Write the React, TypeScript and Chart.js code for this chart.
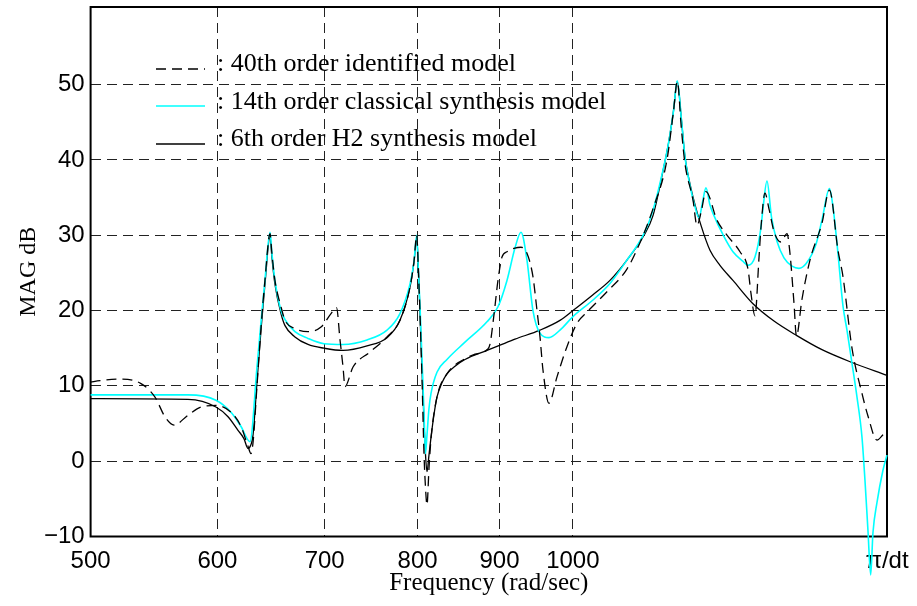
import React, { useEffect, useRef } from 'react';
import { Chart, registerables } from 'chart.js';

Chart.register(...registerables);

// Frequency axis (rad/sec, logarithmic) and magnitude axis (dB)
const PI_DT = 1570.8;
const xTicks = [500, 600, 700, 800, 900, 1000, PI_DT];
const yTicks = [-10, 0, 10, 20, 30, 40, 50];
const xMin = 500;
const yMin = -10;
const yMax = 60.3;

const seriesLabels = [
  ': 40th order identified model',
  ': 14th order classical synthesis model',
  ': 6th order H2 synthesis model',
];

// 40th order identified model (dashed black)
const idFreq = [500, 506.8, 522.3, 537.6, 548.5, 556.4, 563.7, 575.1, 586.0, 598.7, 611.8, 620.7, 626.9, 629.6, 631.5, 635.1, 638.8, 642.4, 647.1, 648.9, 651.7, 657.4, 661.2, 670.7, 683.4, 696.3, 706.4, 712.0, 715.6, 718.7, 720.7, 729.1, 747.1, 765.6, 780.0, 791.3, 795.9, 799.0, 801.0, 802.8, 805.1, 807.4, 809.1, 810.9, 813.2, 815.6, 822.6, 834.5, 856.4, 868.8, 883.9, 887.7, 892.9, 898.0, 903.2, 909.7, 920.2, 928.2, 936.2, 944.3, 949.8, 953.9, 958.0, 966.3, 977.5, 991.6, 1006.0, 1020.6, 1050.3, 1080.9, 1101.3, 1122.1, 1144.9, 1155.7, 1162.0, 1169.0, 1174.9, 1188.5, 1195.4, 1202.3, 1210.9, 1230.2, 1248.0, 1271.6, 1286.3, 1291.8, 1299.3, 1306.8, 1310.5, 1318.1, 1325.7, 1335.3, 1348.8, 1360.5, 1366.3, 1374.2, 1379.1, 1390.1, 1406.2, 1430.6, 1446.1, 1463.9, 1474.5, 1493.7, 1515.3, 1528.4, 1548.3, 1561.7, 1570.7];
const idMag = [10.5, 10.7, 10.9, 10.3, 8.5, 5.9, 4.8, 6.1, 7.2, 7.4, 6.5, 4.6, 2.0, 1.0, 2.5, 10.0, 17.8, 24.0, 30.2, 27.5, 24.0, 20.5, 18.7, 17.6, 17.2, 17.8, 19.6, 20.4, 16.1, 12.5, 9.9, 12.5, 14.5, 16.5, 18.7, 23.1, 26.5, 30.0, 25.0, 19.6, 11.0, 1.0, -3.4, -5.8, -1.0, 3.0, 8.5, 11.6, 13.6, 14.2, 14.8, 15.5, 19.5, 24.0, 27.1, 27.8, 28.3, 28.4, 27.6, 24.5, 20.0, 16.5, 12.1, 7.7, 11.2, 15.2, 18.3, 19.8, 22.5, 25.5, 29.0, 33.5, 40.0, 46.5, 50.4, 44.0, 39.5, 34.7, 31.3, 33.0, 35.8, 32.0, 30.0, 27.8, 25.5, 22.3, 19.3, 27.0, 31.0, 35.6, 33.5, 30.5, 29.1, 30.2, 27.6, 21.0, 16.6, 21.5, 26.7, 31.6, 36.0, 28.0, 24.5, 15.0, 9.0, 6.0, 2.8, 3.5, 4.1];

// 14th order classical synthesis model (cyan)
const clFreq = [500, 575.1, 598.7, 611.8, 620.7, 628.7, 635.1, 638.8, 642.4, 647.1, 648.9, 651.7, 657.4, 661.2, 670.7, 683.4, 699.3, 718.7, 743.9, 765.6, 780.0, 791.3, 795.9, 799.0, 801.0, 802.8, 805.1, 807.4, 809.1, 810.9, 813.2, 815.6, 822.6, 834.5, 856.4, 883.9, 898.0, 909.7, 920.2, 928.2, 936.2, 944.3, 953.9, 966.3, 981.7, 1000.2, 1029.4, 1054.8, 1080.9, 1107.7, 1122.1, 1138.3, 1147.4, 1155.7, 1162.0, 1169.0, 1174.9, 1183.4, 1191.9, 1198.8, 1205.7, 1210.9, 1217.9, 1223.2, 1242.7, 1258.8, 1278.9, 1286.3, 1299.3, 1310.5, 1314.3, 1321.9, 1330.5, 1341.0, 1354.6, 1370.3, 1384.1, 1398.1, 1418.4, 1430.6, 1446.1, 1453.4, 1463.9, 1474.5, 1483.0, 1493.7, 1504.5, 1515.3, 1521.8, 1528.4, 1534.4, 1539.4, 1548.3, 1561.7, 1570.7];
const clMag = [8.8, 8.8, 8.1, 6.5, 4.6, 2.6, 12.5, 18.5, 24.0, 30.4, 27.5, 24.0, 20.0, 18.8, 17.2, 16.3, 15.6, 15.5, 16.1, 17.4, 19.6, 23.5, 26.5, 30.0, 25.0, 20.5, 13.5, 6.5, 1.0, 3.5, 7.0, 9.0, 11.8, 13.5, 15.8, 18.5, 20.5, 24.0, 28.3, 30.4, 26.7, 20.0, 17.0, 16.4, 17.4, 19.2, 21.4, 23.6, 26.7, 30.2, 33.3, 38.6, 42.2, 46.5, 50.5, 45.3, 40.4, 36.6, 33.8, 32.3, 34.7, 36.3, 34.0, 32.9, 29.8, 27.8, 26.4, 26.0, 27.1, 31.0, 33.5, 37.2, 32.4, 29.2, 27.0, 25.9, 25.6, 26.2, 28.8, 32.0, 36.2, 33.8, 27.6, 20.6, 17.4, 13.0, 8.5, 3.2, -2.5, -9.2, -15.1, -9.5, -5.5, -1.2, 0.8];

// 6th order H2 synthesis model (solid black)
const h2Freq = [500, 575.1, 598.7, 609.2, 618.0, 623.3, 626.9, 628.7, 631.5, 635.1, 638.8, 642.4, 647.1, 648.9, 651.7, 657.4, 661.2, 670.7, 683.4, 699.3, 718.7, 743.9, 765.6, 780.0, 791.3, 795.9, 799.0, 801.0, 802.8, 805.1, 807.4, 809.1, 810.9, 813.2, 815.6, 819.1, 822.6, 828.5, 834.5, 844.2, 856.4, 883.9, 900.6, 920.2, 953.9, 981.7, 1000.2, 1029.4, 1054.8, 1080.9, 1107.7, 1122.1, 1138.3, 1147.4, 1155.7, 1162.0, 1169.0, 1174.9, 1183.4, 1188.5, 1202.3, 1217.9, 1235.5, 1258.8, 1295.6, 1335.3, 1379.1, 1430.6, 1493.7, 1570.7];
const h2Mag = [8.3, 8.2, 7.2, 5.9, 4.1, 3.0, 1.7, 1.9, 3.5, 10.5, 17.5, 23.5, 29.8, 27.0, 23.5, 19.6, 18.0, 16.5, 15.5, 15.0, 14.7, 15.3, 16.4, 18.7, 23.1, 26.5, 29.6, 25.5, 19.6, 12.0, 5.4, 1.0, -1.4, 0.8, 3.2, 6.2, 8.5, 10.4, 11.6, 12.6, 13.5, 14.7, 15.4, 16.2, 17.4, 18.7, 20.0, 22.1, 24.0, 26.7, 30.0, 32.6, 38.5, 42.2, 46.5, 50.4, 45.3, 40.4, 36.8, 35.1, 31.3, 28.0, 26.0, 24.0, 20.9, 18.6, 16.7, 14.8, 13.1, 11.4];

const toPoints = (xs: number[], ys: number[]) => xs.map((x, i) => ({ x, y: ys[i] }));

const SERIF = '"Liberation Serif", "Times New Roman", serif';
const SANS = '"Liberation Sans", Arial, Helvetica, sans-serif';

export default function App() {
  const ref = useRef<HTMLCanvasElement | null>(null);

  useEffect(() => {
    document.body.style.margin = '0';
    const canvas = ref.current;
    if (!canvas) return;

    const boxPlugin = {
      id: 'frameBox',
      beforeDatasetsDraw(chart: any) {
        const { ctx, chartArea } = chart;
        ctx.save();
        ctx.strokeStyle = '#000';
        ctx.lineWidth = 2;
        ctx.setLineDash([]);
        ctx.strokeRect(chartArea.left, chartArea.top, chartArea.right - chartArea.left, chartArea.bottom - chartArea.top);
        ctx.restore();
      },
    };

    const legendPlugin = {
      id: 'insideLegend',
      afterDatasetsDraw(chart: any) {
        const { ctx } = chart;
        const rowsLineY = [69, 106, 144];
        const rowsTextY = [71, 109, 146];
        ctx.save();
        chart.data.datasets.forEach((ds: any, i: number) => {
          ctx.beginPath();
          ctx.strokeStyle = ds.borderColor;
          ctx.lineWidth = ds.borderWidth;
          ctx.setLineDash(ds.borderDash || []);
          ctx.moveTo(156, rowsLineY[i]);
          ctx.lineTo(205, rowsLineY[i]);
          ctx.stroke();
          ctx.setLineDash([]);
          ctx.fillStyle = '#000';
          ctx.font = `26px ${SERIF}`;
          ctx.textBaseline = 'alphabetic';
          ctx.textAlign = 'left';
          ctx.fillText(ds.label, 217, rowsTextY[i]);
        });
        ctx.restore();
      },
    };

    const common = { pointRadius: 0, fill: false, cubicInterpolationMode: 'monotone', clip: false };

    const chart = new Chart(canvas, {
      type: 'line',
      data: {
        datasets: [
          { ...common, label: seriesLabels[0], data: toPoints(idFreq, idMag), borderColor: '#000000', borderWidth: 1.3, borderDash: [10, 6] },
          { ...common, label: seriesLabels[1], data: toPoints(clFreq, clMag), borderColor: '#00ffff', borderWidth: 1.6 },
          { ...common, label: seriesLabels[2], data: toPoints(h2Freq, h2Mag), borderColor: '#000000', borderWidth: 1.3 },
        ] as any,
      },
      options: {
        responsive: false,
        animation: false,
        devicePixelRatio: 1,
        events: [],
        layout: { padding: { left: 0, right: 30, top: 7, bottom: 0 } },
        plugins: { legend: { display: false }, tooltip: { enabled: false }, title: { display: false } },
        scales: {
          x: {
            type: 'logarithmic',
            min: xMin,
            max: PI_DT,
            afterBuildTicks: (s: any) => { s.ticks = xTicks.map((v) => ({ value: v })); },
            afterFit: (s: any) => { s.height = 69.5; s.paddingLeft = 0; s.paddingRight = 0; },
            ticks: {
              autoSkip: false,
              maxRotation: 0,
              minRotation: 0,
              padding: 10,
              color: '#000',
              font: { family: SANS, size: 24 },
              callback: (v: any) => (Math.abs(Number(v) - PI_DT) < 0.01 ? 'π/dt' : String(v)),
            },
            grid: { color: '#222', lineWidth: 1, drawTicks: false },
            border: { display: false, dash: [10, 6] },
            title: { display: true, text: 'Frequency (rad/sec)', color: '#000', font: { family: SERIF, size: 25 }, padding: { top: 0, bottom: 8 } },
          },
          y: {
            type: 'linear',
            min: yMin,
            max: yMax,
            afterBuildTicks: (s: any) => { s.ticks = yTicks.map((v) => ({ value: v })); },
            afterFit: (s: any) => { s.width = 90.6; s.paddingTop = 0; s.paddingBottom = 0; },
            ticks: {
              padding: 6,
              color: '#000',
              font: { family: SANS, size: 24 },
              callback: (v: any) => (Number(v) < 0 ? '\u2212' + Math.abs(Number(v)) : String(v)),
            },
            grid: { color: '#222', lineWidth: 1, drawTicks: false },
            border: { display: false, dash: [10, 6] },
            title: { display: true, text: 'MAG dB', color: '#000', font: { family: SERIF, size: 24 }, padding: { top: 14, bottom: 0 } },
          },
        },
      } as any,
      plugins: [boxPlugin, legendPlugin],
    });

    return () => chart.destroy();
  }, []);

  return (
    <div style={{ position: 'absolute', left: 0, top: 0, width: 917, height: 606, background: '#fff' }}>
      <canvas ref={ref} width={917} height={606} style={{ display: 'block', width: 917, height: 606 }} />
    </div>
  );
}
